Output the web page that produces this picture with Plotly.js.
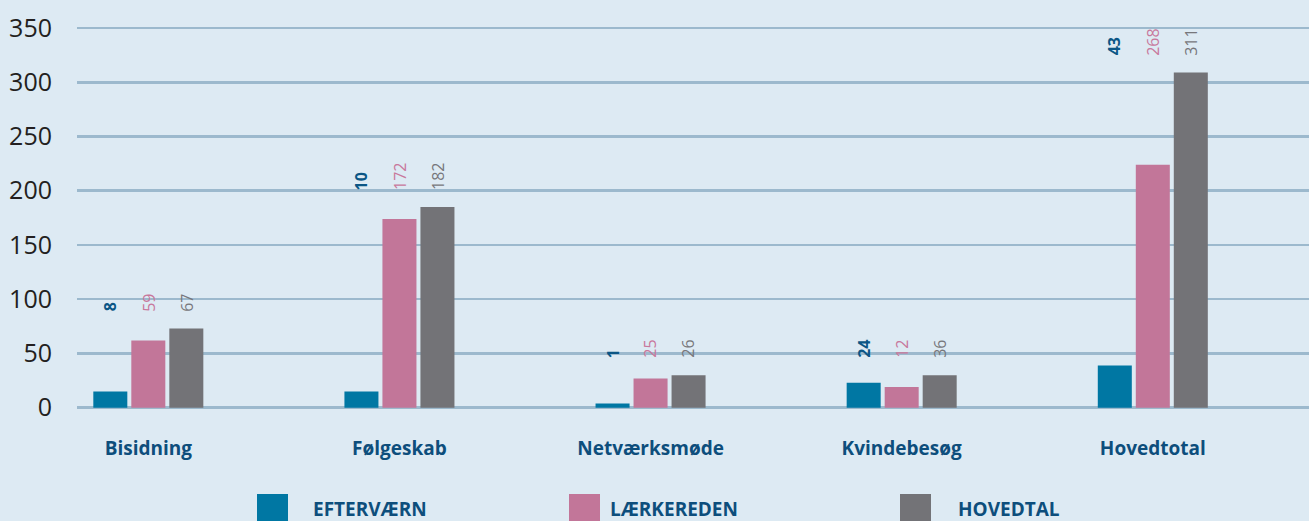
<!DOCTYPE html>
<html>
<head>
<meta charset="utf-8">
<script src="https://cdn.plot.ly/plotly-3.0.1.min.js"></script>
<style>
html,body{margin:0;padding:0;background:#ddeaf3;}
#chart{width:1309px;height:521px;}
</style>
</head>
<body>
<div id="chart"></div>
<script>
// Categories
const categories = ["Bisidning", "Følgeskab", "Netværksmøde", "Kvindebesøg", "Hovedtotal"];
// Series names
const seriesNames = ["EFTERVÆRN", "LÆRKEREDEN", "HOVEDTAL"];
// Bar heights as drawn in the picture
const eftervaernBars = [15, 15, 4, 23, 39];
const laerkeredenBars = [62, 174, 27, 19, 224];
const hovedtalBars = [73, 185, 30, 30, 309];
// Value labels as printed in the picture
const eftervaernLabels = [8, 10, 1, 24, 43];
const laerkeredenLabels = [59, 172, 25, 12, 268];
const hovedtalLabels = [67, 182, 26, 36, 311];
// Y ticks
const yTicks = [0, 50, 100, 150, 200, 250, 300, 350];

const barColors = ["#0077a3", "#c27699", "#737377"];
const labelColors = ["#0b5685", "#c8789c", "#77777b"];
const labelBold = [true, false, false];
const navy = "#0d4e7c";

const barSeries = [eftervaernBars, laerkeredenBars, hovedtalBars];
const labelSeries = [eftervaernLabels, laerkeredenLabels, hovedtalLabels];

const traces = barSeries.map((vals, i) => ({
  type: "bar",
  name: seriesNames[i],
  x: categories,
  y: vals,
  marker: {color: barColors[i], line: {width: 0}},
  hoverinfo: "x+y",
  showlegend: false
}));

const slotPx = 38;
const annotations = [];
categories.forEach((c, ci) => {
  const groupMax = Math.max(...barSeries.map(s => s[ci]));
  labelSeries.forEach((ls, si) => {
    annotations.push({
      x: c, y: groupMax, xref: "x", yref: "y",
      text: labelBold[si] ? "<b>" + ls[ci] + "</b>" : String(ls[ci]),
      textangle: -90,
      showarrow: false,
      xanchor: "center", yanchor: "bottom",
      xshift: (si - 1) * slotPx,
      yshift: 15,
      font: {family: "Open Sans, sans-serif", size: 16, color: labelColors[si]}
    });
  });
});

// custom legend: large squares + bold labels
const plotW = 1232, plotH = 400, plotTop = 10, plotLeft = 77;
const legendSquareX = [257, 569, 900];
const legendTextX = [311, 608, 956];
const shapes = [];
seriesNames.forEach((n, i) => {
  shapes.push({
    type: "rect", xref: "paper", yref: "paper", layer: "above",
    x0: (legendSquareX[i] - plotLeft) / plotW, x1: (legendSquareX[i] + 31 - plotLeft) / plotW,
    y0: -(521 - 410) / plotH, y1: -(494 - 410) / plotH,
    fillcolor: barColors[i], line: {width: 0}
  });
  annotations.push({
    xref: "paper", yref: "paper",
    x: (legendTextX[i] - plotLeft) / plotW, y: -(509 - 410) / plotH,
    xanchor: "left", yanchor: "middle",
    text: "<b>" + n + "</b>", showarrow: false,
    font: {family: "Open Sans, sans-serif", size: 19, color: navy}
  });
});

const layout = {
  width: 1309, height: 521,
  paper_bgcolor: "#ddeaf3",
  plot_bgcolor: "rgba(0,0,0,0)",
  margin: {l: plotLeft, r: 0, t: plotTop, b: 111, pad: 0},
  barmode: "group",
  bargap: 0.546,
  bargroupgap: 0.105,
  showlegend: false,
  xaxis: {
    type: "category",
    range: [-0.284, 4.622],
    showgrid: false, zeroline: false, showline: false,
    ticks: "",
    ticklabelstandoff: 25,
    tickfont: {family: "Open Sans, sans-serif", size: 19, color: navy, weight: "bold"}
  },
  yaxis: {
    range: [-2.1, 366.6],
    tickvals: yTicks,
    ticktext: yTicks.map(String),
    showgrid: true, gridcolor: "#9cb9cd", gridwidth: 2.5,
    zeroline: true, zerolinecolor: "#9cb9cd", zerolinewidth: 2.5,
    showline: false, ticks: "",
    ticklabelstandoff: 24,
    tickfont: {family: "Open Sans, sans-serif", size: 25, color: "#231f20"}
  },
  annotations: annotations,
  shapes: shapes,
  font: {family: "Open Sans, sans-serif"}
};

Plotly.newPlot("chart", traces, layout, {displayModeBar: false, staticPlot: true});
</script>
</body>
</html>
